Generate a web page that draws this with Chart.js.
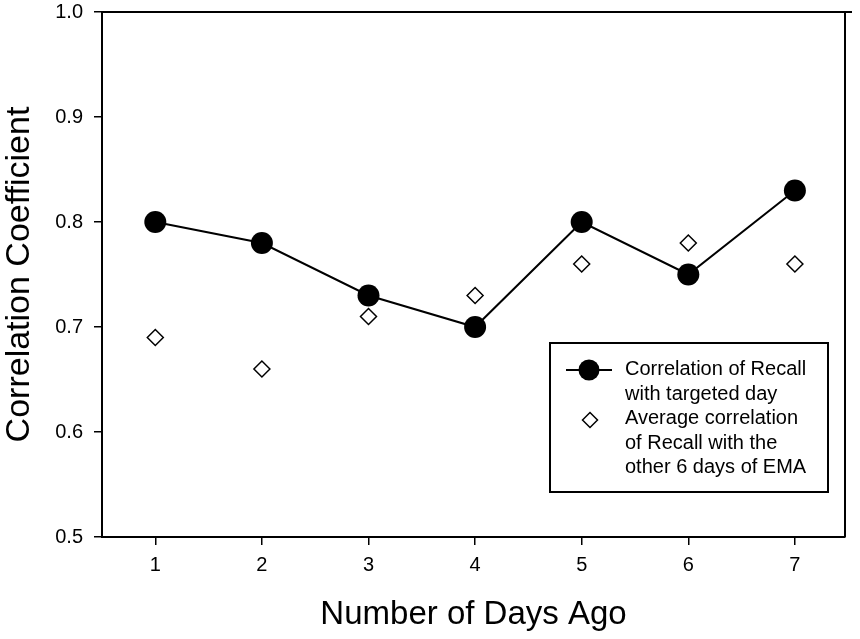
<!DOCTYPE html>
<html>
<head>
<meta charset="utf-8">
<script src="https://cdn.jsdelivr.net/npm/chart.js@4"></script>
<style>
  body { margin: 0; background: #fff; }
  #wrap { width: 860px; height: 639px; }
</style>
</head>
<body>
<div id="wrap"><canvas id="corrChart"></canvas></div>
<script>
// data
var days = [1, 2, 3, 4, 5, 6, 7];
var targetedDay = [0.80, 0.78, 0.73, 0.70, 0.80, 0.75, 0.83];
var otherDays = [0.69, 0.66, 0.71, 0.73, 0.76, 0.78, 0.76];
var yTicks = [0.5, 0.6, 0.7, 0.8, 0.9, 1.0];
var legendText1 = ['Correlation of Recall', 'with targeted day'];
var legendText2 = ['Average correlation', 'of Recall with the', 'other 6 days of EMA'];

var FONT = "Arial, 'Liberation Sans', Helvetica, sans-serif";

function toPoints(vals) {
    return days.map(function (d, i) { return { x: d, y: vals[i] }; });
}

// frame (top / right) + legend box
var extras = {
    id: 'extras',
    afterDraw: function (chart) {
        var c = chart.ctx, a = chart.chartArea;
        c.save();
        c.strokeStyle = '#000';
        c.lineWidth = 2;
        c.beginPath();
        c.moveTo(a.left, a.top);
        c.lineTo(a.right + 7, a.top);
        c.moveTo(a.right, a.top);
        c.lineTo(a.right, a.bottom);
        c.stroke();

        // legend
        var lx = 550, ly = 343, lw = 278, lh = 149;
        c.lineWidth = 2;
        c.fillStyle = '#fff';
        c.fillRect(lx, ly, lw, lh);
        c.strokeRect(lx, ly, lw, lh);

        c.font = '20px ' + FONT;
        c.fillStyle = '#000';
        c.textBaseline = 'alphabetic';
        var lines = legendText1.concat(legendText2);
        var base = 375, step = 24.5;
        lines.forEach(function (t, i) { c.fillText(t, 625, base + i * step); });

        // marker 1: line + filled circle
        c.beginPath();
        c.moveTo(566, 370);
        c.lineTo(612, 370);
        c.stroke();
        c.beginPath();
        c.arc(589, 370, 10.5, 0, Math.PI * 2);
        c.fill();

        // marker 2: open diamond
        var dx = 590, dy = 420, r = 7.5;
        c.lineWidth = 1.5;
        c.beginPath();
        c.moveTo(dx - r, dy);
        c.lineTo(dx, dy - r);
        c.lineTo(dx + r, dy);
        c.lineTo(dx, dy + r);
        c.closePath();
        c.fillStyle = '#fff';
        c.fill();
        c.stroke();
        c.restore();
    }
};

var ctx = document.getElementById('corrChart').getContext('2d');
var corrChart = new Chart(ctx, {
    type: 'scatter',
    data: {
        datasets: [{
            label: 'Correlation of Recall with targeted day',
            data: toPoints(targetedDay),
            showLine: true,
            borderColor: '#000',
            borderWidth: 2,
            backgroundColor: '#000',
            pointStyle: 'circle',
            pointRadius: 11,
            pointBorderWidth: 0,
            pointBackgroundColor: '#000'
        }, {
            label: 'Average correlation of Recall with the other 6 days of EMA',
            data: toPoints(otherDays),
            showLine: false,
            pointStyle: 'rectRot',
            pointRadius: 8,
            pointBorderWidth: 1.5,
            pointBorderColor: '#000',
            pointBackgroundColor: '#fff'
        }]
    },
    options: {
        responsive: true,
        maintainAspectRatio: false,
        animation: false,
        layout: { padding: { top: 12, right: 15, left: 0, bottom: 0 } },
        plugins: {
            legend: { display: false },
            tooltip: { enabled: false }
        },
        scales: {
            x: {
                type: 'linear',
                min: 0.5,
                max: 7.47,
                afterBuildTicks: function (s) { s.ticks = days.map(function (v) { return { value: v }; }); },
                afterFit: function (s) { s.height = 102; s.paddingLeft = 0; s.paddingRight = 0; },
                border: { display: true, color: '#000', width: 2 },
                grid: { display: true, drawOnChartArea: false, drawTicks: true, tickLength: 8, color: '#000', lineWidth: 1.5 },
                ticks: { color: '#000', font: { family: FONT, size: 20 }, padding: 8, maxRotation: 0 },
                title: {
                    display: true,
                    text: 'Number of Days Ago',
                    color: '#000',
                    font: { family: FONT, size: 33, lineHeight: 1 },
                    padding: { top: 0, bottom: 8 }
                }
            },
            y: {
                min: 0.5,
                max: 1.0,
                afterBuildTicks: function (s) { s.ticks = yTicks.map(function (v) { return { value: v }; }); },
                afterFit: function (s) { s.width = 102; s.paddingTop = 0; s.paddingBottom = 0; },
                border: { display: true, color: '#000', width: 2 },
                grid: { display: true, drawOnChartArea: false, drawTicks: true, tickLength: 8, color: '#000', lineWidth: 1.5 },
                ticks: {
                    color: '#000',
                    font: { family: FONT, size: 20 },
                    padding: 11,
                    callback: function (v) { return v.toFixed(1); }
                },
                title: {
                    display: true,
                    text: 'Correlation Coefficient',
                    color: '#000',
                    font: { family: FONT, size: 34, lineHeight: 1 },
                    padding: { top: 3, bottom: 0 }
                }
            }
        }
    },
    plugins: [extras]
});
</script>
</body>
</html>
